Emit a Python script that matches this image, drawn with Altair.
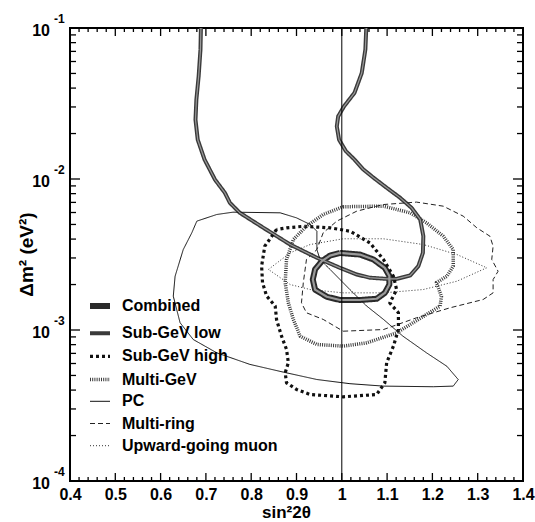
import altair as alt
import pandas as pd

W = 453
H = 453

# ---------------- data (sin^2 2theta, delta m^2 [eV^2]) ----------------
comb_x = [0.996, 1.040, 1.070, 1.095, 1.105, 1.105, 1.095, 1.077, 1.040, 0.996, 0.967, 0.941, 0.936, 0.941, 0.956, 0.974, 0.996]
comb_y = [3.24e-3, 3.16e-3, 2.93e-3, 2.58e-3, 2.28e-3, 2.00e-3, 1.76e-3, 1.61e-3, 1.58e-3, 1.58e-3, 1.66e-3, 1.85e-3, 2.16e-3, 2.52e-3, 2.86e-3, 3.11e-3, 3.24e-3]

sgl_x = [0.689, 0.688, 0.684, 0.679, 0.677, 0.682, 0.697, 0.720, 0.742, 0.753, 0.775, 0.827, 0.886, 0.945, 0.996, 1.033,
         1.062, 1.099, 1.121, 1.151, 1.169, 1.179, 1.180, 1.173, 1.154, 1.129, 1.099, 1.070, 1.047, 1.028, 1.009, 0.994,
         0.989, 0.992, 1.005, 1.028, 1.044, 1.052, 1.054]
sgl_y = [0.1, 0.0719, 0.0479, 0.0336, 0.0247, 0.0182, 0.01345, 0.00991, 0.00809, 0.00695, 0.00597, 0.00475, 0.00368,
         0.00301, 0.00258, 0.00233, 0.00222, 0.00218, 0.00218, 0.00230, 0.00265, 0.00324, 0.00419, 0.00540, 0.00644,
         0.00750, 0.00875, 0.0102, 0.0116, 0.01345, 0.0153, 0.0182, 0.0223, 0.0260, 0.0303, 0.0372, 0.0503, 0.0719, 0.1]

sgh_x = [0.856, 0.830, 0.823, 0.825, 0.834, 0.853, 0.856, 0.867, 0.878, 0.882, 0.875, 0.878, 0.900, 0.930, 1.003, 1.077,
         1.095, 1.099, 1.114, 1.125, 1.125, 1.106, 1.121, 1.114, 1.092, 1.062, 1.018, 0.974, 0.915, 0.878, 0.856]
sgh_y = [4.63e-3, 3.59e-3, 2.65e-3, 2.06e-3, 1.68e-3, 1.44e-3, 1.17e-3, 9.1e-4, 7.43e-4, 6.07e-4, 5.21e-4, 4.47e-4,
         4.04e-4, 3.74e-4, 3.61e-4, 3.74e-4, 4.47e-4, 6.07e-4, 7.82e-4, 1.01e-3, 1.30e-3, 1.51e-3, 1.85e-3, 2.27e-3,
         2.93e-3, 3.78e-3, 4.51e-3, 4.75e-3, 4.86e-3, 4.75e-3, 4.63e-3]

mg_x = [1.003, 1.092, 1.151, 1.187, 1.224, 1.246, 1.246, 1.232, 1.209, 1.220, 1.217, 1.180, 1.121, 1.055, 1.003, 0.945,
        0.908, 0.893, 0.882, 0.875, 0.878, 0.893, 0.922, 0.959, 1.003]
mg_y = [6.55e-3, 6.61e-3, 5.97e-3, 5.13e-3, 4.18e-3, 3.41e-3, 2.65e-3, 2.27e-3, 2.06e-3, 1.67e-3, 1.44e-3, 1.23e-3,
        9.57e-4, 8.22e-4, 7.82e-4, 8.02e-4, 9.10e-4, 1.175e-3, 1.514e-3, 2.056e-3, 2.931e-3, 3.972e-3, 4.864e-3,
        5.821e-3, 6.55e-3]

pc_x = [0.760, 0.864, 0.900, 0.930, 0.945, 0.945, 0.952, 0.974, 0.996, 1.018, 1.055, 1.092, 1.135, 1.187, 1.232, 1.257,
        1.246, 1.202, 1.092, 1.018, 0.945, 0.871, 0.797, 0.724, 0.672, 0.643, 0.628, 0.632, 0.650, 0.669, 0.680, 0.724,
        0.760]
pc_y = [6.03e-3, 5.97e-3, 5.53e-3, 5.00e-3, 4.51e-3, 3.41e-3, 2.93e-3, 2.52e-3, 2.16e-3, 1.85e-3, 1.44e-3, 1.175e-3,
        9.10e-4, 7.06e-4, 5.75e-4, 4.70e-4, 4.25e-4, 4.21e-4, 4.25e-4, 4.41e-4, 4.70e-4, 5.26e-4, 5.92e-4, 7.06e-4,
        8.65e-4, 1.117e-3, 1.675e-3, 2.27e-3, 3.41e-3, 4.41e-3, 5.26e-3, 5.82e-3, 6.03e-3]

mr_x = [1.003, 1.092, 1.165, 1.239, 1.312, 1.334, 1.334, 1.345, 1.331, 1.334, 1.327, 1.298, 1.268, 1.224, 1.165, 1.092,
        1.033, 0.989, 0.959, 0.945, 0.922, 0.915, 0.911, 0.922, 0.959, 1.003]
mr_y = [9.82e-4, 1.007e-3, 1.205e-3, 1.403e-3, 1.592e-3, 1.762e-3, 2.158e-3, 2.449e-3, 2.931e-3, 3.589e-3, 4.178e-3,
        4.753e-3, 5.675e-3, 6.607e-3, 7.031e-3, 6.776e-3, 6.124e-3, 5.26e-3, 4.406e-3, 3.412e-3, 2.931e-3, 2.056e-3,
        1.514e-3, 1.300e-3, 1.175e-3, 9.82e-4]

um_x = [0.838, 0.886, 0.930, 1.003, 1.092, 1.180, 1.254, 1.320, 1.254, 1.180, 1.092, 1.003, 0.930, 0.886, 0.838]
um_y = [2.518e-3, 3.243e-3, 3.681e-3, 4.018e-3, 4.018e-3, 3.681e-3, 3.162e-3, 2.582e-3, 2.104e-3, 1.854e-3, 1.762e-3,
        1.762e-3, 1.854e-3, 2.0e-3, 2.518e-3]

names = ["Combined", "Sub-GeV low", "Sub-GeV high", "Multi-GeV", "PC", "Multi-ring", "Upward-going muon"]
series_xy = [(comb_x, comb_y), (sgl_x, sgl_y), (sgh_x, sgh_y), (mg_x, mg_y), (pc_x, pc_y), (mr_x, mr_y), (um_x, um_y)]

x_major = [0.4, 0.5, 0.6, 0.7, 0.8, 0.9, 1.0, 1.1, 1.2, 1.3, 1.4]
x_minor = [round(0.4 + 0.02 * k, 2) for k in range(51) if k % 5]
y_major = [1e-4, 1e-3, 1e-2, 1e-1]
y_minor = [m * 10.0 ** e for e in (-4, -3, -2) for m in range(2, 10)]
y_exp = ["-4", "-3", "-2", "-1"]

# ---------------- build tables ----------------
rows = []
for name, (xs_, ys_) in zip(names, series_xy):
    for i, (a, b) in enumerate(zip(xs_, ys_)):
        rows.append({"series": name, "i": i, "x": a, "y": b})
df = pd.DataFrame(rows)

colors = ["#2a2a2a", "#3a3a3a", "#111111", "#3a3a3a", "#111111", "#222222", "#333333"]
dashes = [[1, 0], [1, 0], [3, 3], [1, 1.2], [1, 0], [5, 3], [1, 2]]
widths = [6, 4, 3.2, 3.5, 1, 1, 1]

FONT = "Liberation Sans"
xs = alt.Scale(domain=[0.4, 1.4], nice=False, zero=False)
ys = alt.Scale(type="log", domain=[1e-4, 1e-1], nice=False)

xaxis = alt.Axis(
    values=x_major, labelExpr="datum.value == 1 ? '1' : format(datum.value, '.1f')",
    ticks=False, domain=False, grid=False, labelFlush=False, labelOverlap=False,
    labelFont=FONT, labelFontSize=16, labelFontWeight="bold", labelColor="black", labelPadding=5,
    title="sin²2θ", titleFont=FONT, titleFontSize=17, titleFontWeight="bold", titleColor="black",
    titleX=216, titleY=36.5, titleBaseline="alphabetic", titleAlign="center")
yaxis = alt.Axis(
    labels=False, ticks=False, domain=False, grid=False,
    title="Δm² (eV²)", titleFont=FONT, titleFontSize=19, titleFontWeight="bold", titleColor="black",
    titleX=-44, titleY=226, titleAngle=-90, titleBaseline="middle", titleAlign="center")

leg = alt.Legend(title=None, orient="none", legendX=17, legendY=265, symbolType="stroke", symbolSize=400,
                 labelFont=FONT, labelFontSize=16, labelFontWeight="bold", labelColor="black",
                 labelOffset=9, rowPadding=3.2, padding=0)

lines = alt.Chart(df).mark_line(strokeCap="butt", strokeJoin="round").encode(
    x=alt.X("x:Q", scale=xs, axis=xaxis),
    y=alt.Y("y:Q", scale=ys, axis=yaxis),
    color=alt.Color("series:N", scale=alt.Scale(domain=names, range=colors), legend=leg, sort=names),
    strokeDash=alt.StrokeDash("series:N", scale=alt.Scale(domain=names, range=dashes), legend=leg, sort=names),
    strokeWidth=alt.StrokeWidth("series:N", scale=alt.Scale(type="ordinal", domain=names, range=widths),
                                legend=leg, sort=names),
    order=alt.Order("i:Q"),
)

inner = alt.Chart(df).transform_filter(
    alt.FieldOneOfPredicate(field="series", oneOf=["Combined", "Sub-GeV low"])
).mark_line(color="#9a9a9a", strokeJoin="round").encode(
    x=alt.X("x:Q", scale=xs, axis=xaxis),
    y=alt.Y("y:Q", scale=ys, axis=yaxis),
    detail="series:N",
    strokeWidth=alt.condition("datum.series == 'Combined'", alt.value(2.2), alt.value(1.2)),
    order=alt.Order("i:Q"),
)

vline = alt.Chart(pd.DataFrame({"x": [1.0]})).mark_rule(color="black", strokeWidth=1).encode(
    x=alt.X("x:Q", scale=xs, axis=xaxis))

tick_style = dict(color="black", strokeWidth=1.3)
xmaj_df = pd.DataFrame({"x": x_major})
xmin_df = pd.DataFrame({"x": x_minor})
ymaj_df = pd.DataFrame({"y": y_major})
ymin_df = pd.DataFrame({"y": y_minor})


def xticks(d, ln):
    b = alt.Chart(d).mark_rule(**tick_style).encode(
        x=alt.X("x:Q", scale=xs, axis=xaxis), y=alt.value(H), y2=alt.value(H - ln))
    t = alt.Chart(d).mark_rule(**tick_style).encode(
        x=alt.X("x:Q", scale=xs, axis=xaxis), y=alt.value(0), y2=alt.value(ln))
    return [b, t]


def yticks(d, ln):
    l = alt.Chart(d).mark_rule(**tick_style).encode(
        y=alt.Y("y:Q", scale=ys, axis=yaxis), x=alt.value(0), x2=alt.value(ln))
    r = alt.Chart(d).mark_rule(**tick_style).encode(
        y=alt.Y("y:Q", scale=ys, axis=yaxis), x=alt.value(W), x2=alt.value(W - ln))
    return [l, r]


ticks = xticks(xmaj_df, 8) + xticks(xmin_df, 4) + yticks(ymaj_df, 10) + yticks(ymin_df, 6)

ylab_df = pd.DataFrame({"y": y_major, "base": ["10"] * 4, "exp": y_exp})
ybase = alt.Chart(ylab_df).mark_text(align="right", baseline="middle", dy=3, font=FONT, fontSize=16,
                                     fontWeight="bold", color="black").encode(
    y=alt.Y("y:Q", scale=ys, axis=yaxis), x=alt.value(-20), text="base:N")
yexp = alt.Chart(ylab_df).mark_text(align="left", baseline="middle", dy=-9, font=FONT, fontSize=12,
                                    fontWeight="bold", color="black").encode(
    y=alt.Y("y:Q", scale=ys, axis=yaxis), x=alt.value(-16), text="exp:N")

chart = alt.layer(lines, inner, vline, *ticks, ybase, yexp).properties(
    width=W, height=H,
    padding={"left": 70, "top": 28, "right": 12, "bottom": 41},
    autosize=alt.AutoSizeParams(type="none"),
    background="white",
).configure_view(stroke="black", strokeWidth=2)

chart.save("out.html", embed_options={"renderer": "svg", "actions": False})
